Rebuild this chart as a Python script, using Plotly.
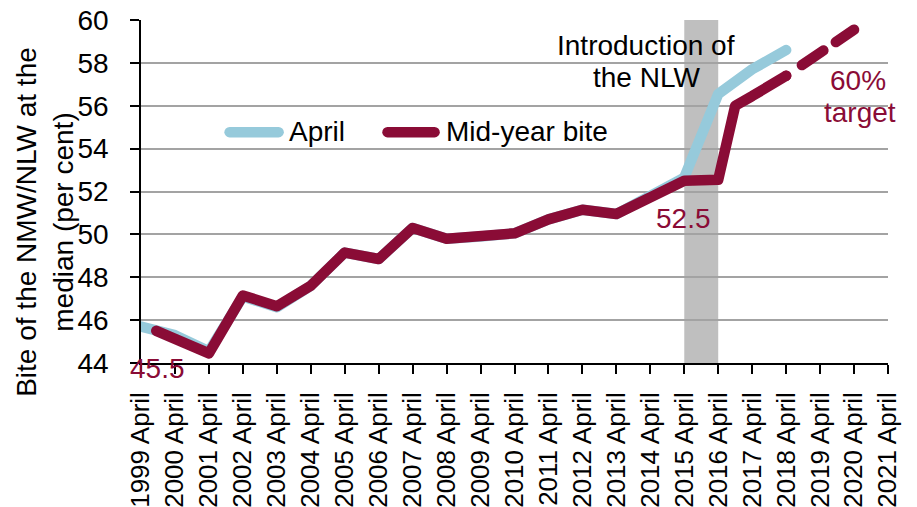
import plotly.graph_objects as go

# ---- data -------------------------------------------------------------
years = list(range(1999, 2022))
tick_labels = [f"{y} April" for y in years]

# April bite of the NMW/NLW (per cent of median hourly pay)
april_x = list(range(1999, 2019))
april_bite = [45.7, 45.3, 44.55, 47.1, 46.6, 47.6, 49.15, 48.85, 50.3, 49.8,
              49.9, 50.05, 50.7, 51.15, 50.95, 51.75, 52.65, 56.55, 57.7, 58.6]

# Mid-year bite (outturn)
mid_x = [1999.45, 2001, 2002, 2003, 2004, 2005, 2006, 2007, 2008, 2009, 2010,
         2011, 2012, 2013, 2014, 2015, 2016, 2016.5, 2017, 2018]
mid_bite = [45.5, 44.45, 47.15, 46.65, 47.6, 49.15, 48.85, 50.3, 49.8, 49.9,
            50.05, 50.7, 51.15, 50.95, 51.75, 52.5, 52.55, 56.0, 56.45, 57.4]

# Mid-year bite path towards the 2020 target
proj_x = [2018, 2019, 2020]
proj_bite = [57.4, 58.5, 59.55]

nlw_start, nlw_end = 2015, 2016

RED = "#8A0C36"
BLUE = "#96CADB"
FONT = "Liberation Sans, Arial, sans-serif"
FS = 28
LW = 10.5

fig = go.Figure()

fig.add_trace(go.Scatter(x=april_x, y=april_bite, mode="lines", name="April",
                         line=dict(color=BLUE, width=LW), showlegend=False))
fig.add_trace(go.Scatter(x=mid_x, y=mid_bite, mode="lines", name="Mid-year bite",
                         line=dict(color=RED, width=LW), showlegend=False))
fig.add_trace(go.Scatter(x=proj_x, y=proj_bite, mode="lines", name="Mid-year bite (path)",
                         line=dict(color=RED, width=LW, dash="0px,19px,26px,15px,26px,100px"),
                         showlegend=False))

# shaded band marking the NLW introduction
fig.add_shape(type="rect", xref="x", yref="paper", x0=nlw_start, x1=nlw_end, y0=0, y1=1,
              fillcolor="#BFBFBF", line=dict(width=0), layer="below")

# hand-drawn legend swatches
fig.add_shape(type="line", xref="paper", yref="paper", x0=0.1186, x1=0.1842, y0=0.673, y1=0.673,
              line=dict(color=BLUE, width=LW))
fig.add_shape(type="line", xref="paper", yref="paper", x0=0.3300, x1=0.3930, y0=0.673, y1=0.673,
              line=dict(color=RED, width=LW))

ann = [
    dict(text="April", x=0.195, y=0.676, xref="paper", yref="paper", xanchor="left",
         yanchor="middle", font=dict(color="black")),
    dict(text="Mid-year bite", x=0.405, y=0.676, xref="paper", yref="paper", xanchor="left",
         yanchor="middle", font=dict(color="black")),
    dict(text="Introduction of", x=2013.86, y=58.81, xref="x", yref="y", font=dict(color="black")),
    dict(text="the NLW", x=2013.89, y=57.32, xref="x", yref="y", font=dict(color="black")),
    dict(text="52.5", x=2014.98, y=50.73, xref="x", yref="y", font=dict(color=RED)),
    dict(text="45.5", x=0.0216, y=-0.016, xref="paper", yref="paper", font=dict(color=RED)),
    dict(text="60%", x=2020.12, y=57.2, xref="x", yref="y", font=dict(color=RED)),
    dict(text="target", x=2020.17, y=55.68, xref="x", yref="y", font=dict(color=RED)),
    dict(text="Bite of the NMW/NLW at the<br>median (per cent)", x=-0.129, y=0.4106,
         xref="paper", yref="paper", textangle=-90, font=dict(color="black")),
]
for a in ann:
    a.setdefault("xanchor", "center")
    a.setdefault("yanchor", "middle")
    a["showarrow"] = False
    a["font"] = dict(family=FONT, size=FS, color=a["font"]["color"])
    fig.add_annotation(**a)

fig.update_layout(
    width=917, height=507,
    margin=dict(l=141, r=29, t=20, b=144, autoexpand=False),
    paper_bgcolor="white", plot_bgcolor="white",
    font=dict(family=FONT, size=FS, color="black"),
    showlegend=False,
)
fig.update_xaxes(
    range=[1999, 2021], tickmode="array", tickvals=years, ticktext=tick_labels,
    tickangle=-90, showgrid=False, zeroline=False, automargin=False,
    showline=True, linecolor="black", linewidth=1.5,
    ticks="outside", ticklen=9, tickwidth=1.5, tickcolor="black",
    ticklabelstandoff=8,
    tickfont=dict(family=FONT, size=26, color="black"),
)
fig.update_yaxes(
    range=[44, 60], dtick=2, tick0=44, showgrid=True, gridcolor="#A3A3A3", gridwidth=1.5,
    zeroline=False, showline=True, linecolor="black", linewidth=1.5, automargin=False,
    ticks="outside", ticklen=9, tickwidth=1.5, tickcolor="black",
    ticklabelstandoff=16,
    tickfont=dict(family=FONT, size=FS, color="black"),
)

round_caps = """
var gd = document.getElementById('{plot_id}');
gd.querySelectorAll('.scatterlayer path.js-line').forEach(function(p){
  p.style.strokeLinecap = 'round'; p.style.strokeLinejoin = 'round';
});
gd.querySelectorAll('.shapelayer path').forEach(function(p){
  if (parseFloat(p.style.strokeWidth) >= 8) { p.style.strokeLinecap = 'round'; }
});
"""

fig.write_html("out.html", post_script=round_caps)
